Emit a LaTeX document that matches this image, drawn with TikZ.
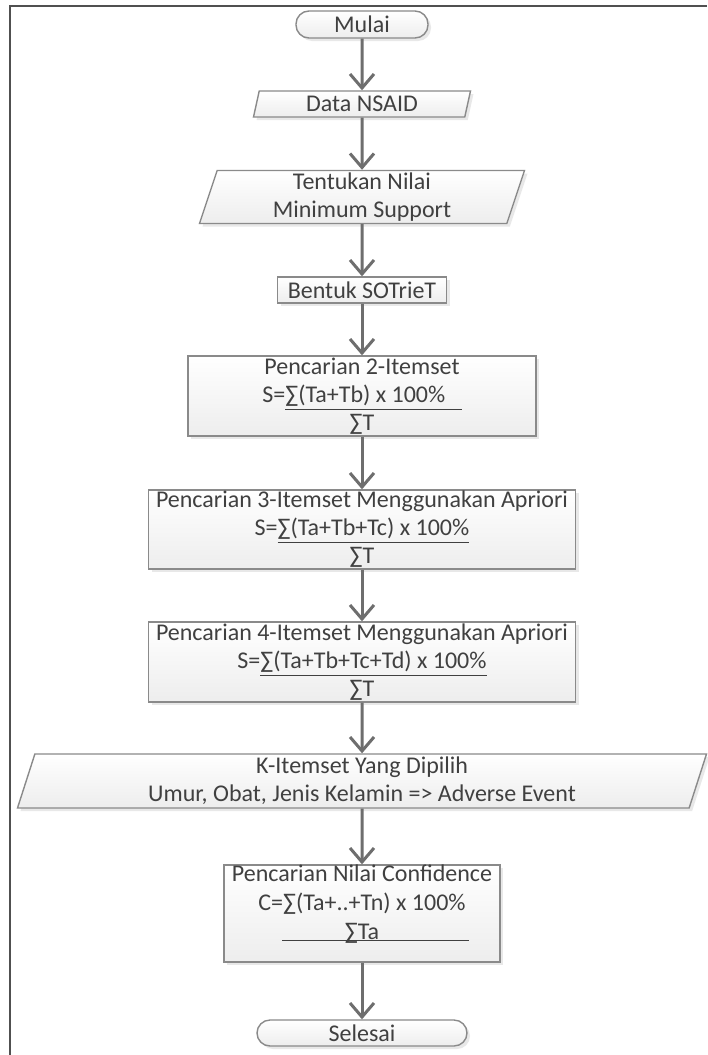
\documentclass[tikz,border=0pt]{standalone}
\usepackage{fontspec}
\setmainfont{Carlito}
\usepackage{tikz}
\usetikzlibrary{positioning}
\usetikzlibrary{shapes,arrows.meta,shadows}
\definecolor{textgray}{HTML}{404040}
\definecolor{linegray}{HTML}{6E6E6E}
\definecolor{edgegray}{HTML}{8A8A8A}
\definecolor{framegray}{HTML}{505050}
\tikzstyle{base} = [draw=edgegray, line width=0.7pt, top color=white, bottom color=black!7,
    text=textgray, align=center, font=\fontsize{12}{14}\selectfont, inner sep=0pt,
    drop shadow={shadow xshift=1.5pt, shadow yshift=-1.5pt, opacity=0.18}]
\tikzstyle{terminal} = [base, rectangle, rounded corners=6.5pt, minimum height=13.5pt]
\tikzstyle{io} = [base, trapezium, trapezium left angle=70, trapezium right angle=110,
    trapezium stretches body, minimum height=13pt]
\tikzstyle{block} = [base, rectangle, minimum height=40pt]
\tikzstyle{blocktext} = [text=textgray, align=center, font=\fontsize{12}{14.5}\selectfont, inner sep=0pt]
\tikzstyle{line} = [draw=linegray, line width=1.5pt, -{Straight Barb[length=7pt,width=12pt]}]

\begin{document}
\begin{tikzpicture}[node distance = 46.5pt, auto]
        \useasboundingbox (0,0) rectangle (353.5pt,-527.5pt);
        \fill [white] (0,0) rectangle (353.5pt,-527.5pt);
        \draw [framegray, line width=1pt] (353.5pt,-3pt) -- (5pt,-3pt) -- (5pt,-527.5pt);
        % nodes
        \node [terminal, minimum width=66pt] (mulai) at (181pt,-12.25pt) {Mulai};
        \node [io, minimum width=108.5pt, below of=mulai, node distance=39.75pt] (data) {Data NSAID};
        \node [io, minimum width=162.5pt, minimum height=26.5pt, below of=data] (nilai) {Tentukan Nilai\\Minimum Support};
        \node [block, minimum width=84.5pt, minimum height=13pt, below of=nilai] (sotriet) {Bentuk SOTrieT};
        \node [block, minimum width=174pt, below of=sotriet, node distance=53pt] (item2) {Pencarian 2-Itemset\\S=\underline{∑(Ta+Tb) x 100\%\ \ \ }\\∑T};
        \node [block, minimum width=213.5pt, minimum height=39.5pt, below of=item2, node distance=66.75pt] (item3) {Pencarian 3-Itemset Menggunakan Apriori\\S=\underline{∑(Ta+Tb+Tc) x 100\%}\\∑T};
        \node [block, minimum width=213.5pt, below of=item3, node distance=66.25pt] (item4) {Pencarian 4-Itemset Menggunakan Apriori\\S=\underline{∑(Ta+Tb+Tc+Td) x 100\%}\\∑T};
        \node [io, minimum width=344.5pt, minimum height=27pt, below of=item4, node distance=59.5pt] (kset) {K-Itemset Yang Dipilih\\Umur, Obat, Jenis Kelamin => Adverse Event};
        \node [block, minimum width=138pt, minimum height=48.5pt, below of=kset, node distance=66.25pt] (conf) {};
        \node [blocktext, below=0pt of conf.north] (conftext) {Pencarian Nilai Confidence\\C=∑(Ta+..+Tn) x 100\%\\∑Ta};
        \node [terminal, minimum width=105pt, minimum height=13pt, below of=conf, node distance=59.75pt] (selesai) {Selesai};
        \draw [textgray, line width=0.5pt] ([xshift=-40pt,yshift=11pt]conf.south) -- ([xshift=53.5pt,yshift=11pt]conf.south);
        % edges
        \path [line] (mulai) -- (data);
        \path [line] (data) -- (nilai);
        \path [line] (nilai) -- (sotriet);
        \path [line] (sotriet) -- (item2);
        \path [line] (item2) -- (item3);
        \path [line] (item3) -- (item4);
        \path [line] (item4) -- (kset);
        \path [line] (kset) -- (conf);
        \path [line] (conf) -- (selesai);
\end{tikzpicture}
\end{document}
